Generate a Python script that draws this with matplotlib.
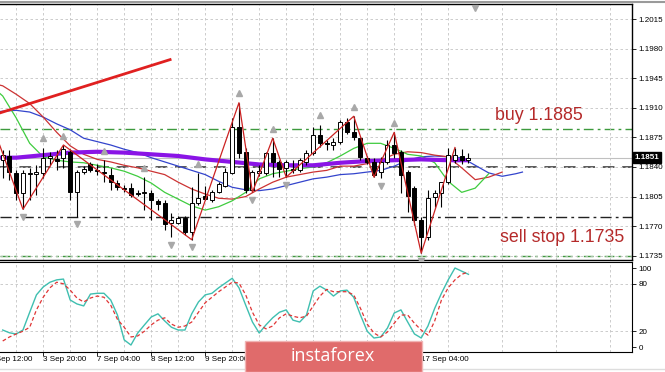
import matplotlib.pyplot as plt
import matplotlib.transforms as mtransforms
from matplotlib.patches import Rectangle
from matplotlib.lines import Line2D

# H4 candles, bar 0 = 2 Sep 12:00
bars = list(range(2, 72))
opens = [1.1848, 1.1853, 1.1833, 1.1809, 1.1832, 1.1832, 1.1833, 1.1851, 1.1850, 1.1851,
         1.1858, 1.1810, 1.1834, 1.1844, 1.1836, 1.1834, 1.1831, 1.1821, 1.1815, 1.1815,
         1.1809, 1.1809, 1.1809, 1.1800, 1.1797, 1.1774, 1.1774, 1.1780, 1.1763, 1.1797,
         1.1806, 1.1801, 1.1810, 1.1818, 1.1833, 1.1887, 1.1858, 1.1813, 1.1833, 1.1833,
         1.1857, 1.1846, 1.1839, 1.1836, 1.1836, 1.1846, 1.1857, 1.1878, 1.1868, 1.1866,
         1.1870, 1.1893, 1.1881, 1.1874, 1.1851, 1.1846, 1.1834, 1.1846, 1.1866, 1.1858,
         1.1834, 1.1815, 1.1777, 1.1757, 1.1805, 1.1809, 1.1822, 1.1848, 1.1853, 1.1848]
highs = [1.1860, 1.1860, 1.1836, 1.1836, 1.1839, 1.1842, 1.1863, 1.1858, 1.1860, 1.1866,
         1.1861, 1.1836, 1.1841, 1.1846, 1.1844, 1.1848, 1.1839, 1.1825, 1.1819, 1.1821,
         1.1813, 1.1828, 1.1813, 1.1802, 1.1801, 1.1786, 1.1782, 1.1782, 1.1816, 1.1833,
         1.1818, 1.1813, 1.1822, 1.1839, 1.1898, 1.1916, 1.1863, 1.1836, 1.1842, 1.1858,
         1.1874, 1.1848, 1.1848, 1.1848, 1.1851, 1.1860, 1.1887, 1.1890, 1.1872, 1.1874,
         1.1896, 1.1898, 1.1900, 1.1876, 1.1853, 1.1851, 1.1852, 1.1872, 1.1881, 1.1860,
         1.1836, 1.1818, 1.1781, 1.1813, 1.1813, 1.1822, 1.1863, 1.1863, 1.1861, 1.1857]
lows = [1.1827, 1.1825, 1.1801, 1.1790, 1.1801, 1.1807, 1.1827, 1.1842, 1.1836, 1.1839,
        1.1801, 1.1781, 1.1832, 1.1834, 1.1831, 1.1822, 1.1813, 1.1813, 1.1810, 1.1805,
        1.1806, 1.1789, 1.1777, 1.1789, 1.1766, 1.1757, 1.1773, 1.1760, 1.1754, 1.1795,
        1.1801, 1.1799, 1.1809, 1.1816, 1.1832, 1.1851, 1.1809, 1.1810, 1.1829, 1.1831,
        1.1828, 1.1828, 1.1828, 1.1833, 1.1834, 1.1842, 1.1854, 1.1864, 1.1860, 1.1860,
        1.1867, 1.1879, 1.1872, 1.1848, 1.1844, 1.1828, 1.1827, 1.1844, 1.1851, 1.1809,
        1.1787, 1.1771, 1.1738, 1.1754, 1.1793, 1.1793, 1.1820, 1.1845, 1.1844, 1.1845]
closes = [1.1854, 1.1834, 1.1809, 1.1833, 1.1833, 1.1834, 1.1851, 1.1853, 1.1847, 1.1861,
          1.1810, 1.1834, 1.1838, 1.1836, 1.1835, 1.1833, 1.1822, 1.1816, 1.1814, 1.1807,
          1.1808, 1.1810, 1.1801, 1.1796, 1.1773, 1.1777, 1.1780, 1.1763, 1.1797, 1.1803,
          1.1802, 1.1810, 1.1820, 1.1834, 1.1887, 1.1857, 1.1813, 1.1834, 1.1835, 1.1857,
          1.1846, 1.1838, 1.1846, 1.1838, 1.1848, 1.1857, 1.1878, 1.1868, 1.1867, 1.1870,
          1.1893, 1.1881, 1.1876, 1.1852, 1.1846, 1.1831, 1.1846, 1.1866, 1.1857, 1.1831,
          1.1806, 1.1777, 1.1757, 1.1803, 1.1809, 1.1822, 1.1854, 1.1854, 1.1848, 1.1851]

# alligator lines (shifted into the future)
jaw_bars = [1, 2] + list(range(4, 79, 2)) + [79]
jaw = [1.1905, 1.1906, 1.1907, 1.1905, 1.1899, 1.1891, 1.1884, 1.1874, 1.1870, 1.1866,
       1.1861, 1.1857, 1.1851, 1.1846, 1.1841, 1.1836, 1.1831, 1.1823, 1.1816, 1.1813,
       1.1812, 1.1814, 1.1818, 1.1822, 1.1826, 1.1828, 1.1831, 1.1832, 1.1834, 1.1836,
       1.1841, 1.1848, 1.1852, 1.1853, 1.1852, 1.1851, 1.1842, 1.1833, 1.1829, 1.1832, 1.1834]
teeth_bars = [1, 2] + list(range(4, 77, 2))
teeth = [1.1938, 1.1936, 1.1926, 1.1915, 1.1899, 1.1881, 1.1865, 1.1855, 1.1849, 1.1846,
         1.1842, 1.1839, 1.1835, 1.1831, 1.1822, 1.1814, 1.1808, 1.1803, 1.1802, 1.1805,
         1.1814, 1.1822, 1.1828, 1.1831, 1.1834, 1.1836, 1.1841, 1.1841, 1.1844, 1.1848,
         1.1855, 1.1858, 1.1857, 1.1854, 1.1852, 1.1839, 1.1825, 1.1828, 1.1834]
lips_bars = [1, 2] + list(range(4, 75, 2))
lips = [1.1931, 1.1924, 1.1898, 1.1868, 1.1852, 1.1848, 1.1846, 1.1845, 1.1842, 1.1839,
        1.1835, 1.1829, 1.1821, 1.1810, 1.1802, 1.1794, 1.1789, 1.1793, 1.1800, 1.1810,
        1.1826, 1.1832, 1.1835, 1.1838, 1.1840, 1.1845, 1.1853, 1.1862, 1.1868, 1.1868,
        1.1862, 1.1855, 1.1853, 1.1845, 1.1823, 1.1810, 1.1815, 1.1832]
slow_bars = [1, 4, 8, 12, 16, 20, 24, 28, 32, 36, 40, 44, 48, 52, 56, 60, 64, 68, 71]
slow_ma = [1.1851, 1.1851, 1.1854, 1.1857, 1.1858, 1.1857, 1.1855, 1.1853, 1.1849, 1.1846,
           1.1843, 1.1842, 1.1842, 1.1845, 1.1847, 1.1848, 1.1849, 1.1848, 1.1848]

zz_bars = [1, 5, 11, 30, 37, 39, 42, 44, 54, 57, 60, 64, 69]
zz_vals = [1.1878, 1.1790, 1.1866, 1.1754, 1.1916, 1.1810, 1.1874, 1.1828, 1.1900, 1.1828,
           1.1881, 1.1738, 1.1863]
up_fractals = [8, 11, 17, 23, 31, 37, 42, 49, 54, 60]
down_fractals = [5, 13, 27, 30, 39, 44, 58, 64]
top_marker_bar = 72

trend_bars = [1.6, 26.8]
trend_vals = [1.1904, 1.1967]
buy_level = 1.1885
sell_level = 1.1735
pivot_level = 1.1840
lower_level = 1.1781

# stochastic
stoch_bars = list(range(2, 72))
stoch_main = [21.5, 18, 16.5, 21.5, 44, 66, 76, 82, 85, 86, 59.5, 54.5, 52, 67, 68, 68, 59.5,
              40.5, 9, 2.5, 17.7, 28, 38, 42, 33, 25, 21.5, 21.5, 42, 57, 66, 68, 75, 81, 87,
              75, 53, 31.6, 17.7, 28, 37, 44, 47, 34, 31.6, 40.5, 71, 77, 72, 64.5, 71, 72,
              63, 40.5, 20, 11.4, 12.7, 24, 43, 47, 31.6, 16.5, 11.4, 26.6, 49, 68, 85, 100,
              96, 92]
stoch_signal = [7.6, 12.7, 16.5, 20, 25, 47, 63, 75, 82, 80, 72, 62, 57, 62, 64.5, 63, 53,
                35, 25, 12.7, 14, 20, 28, 34, 37, 29, 25, 26.6, 31.6, 44, 56, 63, 70, 76, 82,
                81, 66, 44, 28, 23, 26.6, 37, 42, 39, 37, 39, 52, 64.5, 73, 70, 70, 70, 66,
                49, 29, 17.7, 12.7, 19, 30, 40.5, 40.5, 30, 21.5, 15, 33, 59.5, 75, 85, 92, 95]

# labels that are not covered by the watermark
time_bars = [0, 8, 16, 24, 32, 64]
time_labels = ['2 Sep 12:00', '3 Sep 20:00', '7 Sep 04:00', '8 Sep 12:00', '9 Sep 20:00',
               '17 Sep 04:00']
time_ticks = [8, 16, 24, 32, 40, 48, 56, 64]
price_ticks = [1.2015, 1.1980, 1.1945, 1.1910, 1.1875, 1.1840, 1.1805, 1.1770, 1.1735]


def main():
    plt.rcParams['font.family'] = ['Liberation Sans', 'DejaVu Sans']
    fig = plt.figure(figsize=(6.65, 3.72), dpi=100)
    fig.patch.set_facecolor('white')
    ax = fig.add_axes([0, 0.3011, 0.9504, 0.6882])
    ax2 = fig.add_axes([0, 0.0538, 0.9504, 0.2419], sharex=ax)

    xlim = (1.6, 95.23)
    grid_kw = dict(color='#c4c4c4', lw=0.6, linestyle=(0, (3, 3)))

    # ---- main panel
    ax.set_xlim(*xlim)
    ax.set_ylim(1.17300, 1.20328)
    ax.set_yticks(price_ticks)
    ax.set_yticklabels(['%.4f' % p for p in price_ticks])
    ax.yaxis.tick_right()
    ax.tick_params(axis='y', labelsize=5.8, length=3, pad=1.5, width=0.6)
    ax.set_xticks(time_ticks)
    ax.set_xticks(range(4, 96, 8), minor=True)
    ax.tick_params(axis='x', which='both', length=0, labelbottom=False)
    ax.grid(True, which='both', **grid_kw)
    ax.spines['left'].set_visible(False)
    for s in ['top', 'right', 'bottom']:
        ax.spines[s].set_linewidth(1.0)

    # level lines
    ax.axhline(buy_level, color='#3d9a3d', lw=1.0, linestyle=(0, (7, 3, 2, 3)), zorder=1.5)
    ax.axhline(sell_level, color='#3d9a3d', lw=1.0, linestyle=(0, (7, 3, 2, 3)), zorder=1.5)
    ax.axhline(pivot_level, color='#5a5a5a', lw=1.4, linestyle=(0, (6, 4)), zorder=1.5)
    ax.axhline(lower_level, color='#222222', lw=1.0, linestyle=(0, (8, 3, 2, 3)), zorder=1.5)
    ax.axhline(closes[-1], color='#c0c0c0', lw=0.8, zorder=1.5)

    # indicators
    ax.plot(jaw_bars, jaw, color='#3344cc', lw=0.9, zorder=2)
    ax.plot(teeth_bars, teeth, color='#cc3333', lw=0.9, zorder=2)
    ax.plot(lips_bars, lips, color='#3fcc3f', lw=0.9, zorder=2)
    ax.plot(slow_bars, slow_ma, color='#8a14e6', lw=3, zorder=2.5, solid_capstyle='butt')

    # candles
    ax.vlines(bars, lows, highs, color='black', lw=0.8, zorder=3)
    bottoms = [min(o, c) for o, c in zip(opens, closes)]
    heights = [max(abs(c - o), 0.00008) for o, c in zip(opens, closes)]
    fills = ['white' if c >= o else 'black' for o, c in zip(opens, closes)]
    ax.bar(bars, heights, bottom=bottoms, width=0.6, color=fills, edgecolor='black',
           linewidth=0.7, zorder=3.5)

    # zigzag, fractals, trendline
    ax.plot(zz_bars, zz_vals, color='#cc2222', lw=0.9, zorder=4)
    hi = dict(zip(bars, highs))
    lo = dict(zip(bars, lows))
    ax.plot(up_fractals, [hi[b] + 0.0011 for b in up_fractals], '^', color='#a8a8a8',
            ms=5, zorder=4)
    ax.plot(down_fractals, [lo[b] - 0.0009 for b in down_fractals], 'v', color='#a8a8a8',
            ms=5, zorder=4)
    tb = mtransforms.blended_transform_factory(ax.transData, ax.transAxes)
    ax.plot([top_marker_bar], [0.985], 'v', color='#a8a8a8', ms=5, transform=tb,
            clip_on=False, zorder=4)
    ax.plot(trend_bars, trend_vals, color='#e02020', lw=2, zorder=4)

    ax.text(74.9, buy_level + 0.0016, 'buy 1.1885', color='#b52a2a', fontsize=12.8,
            ha='left', va='center', zorder=5)
    ax.text(75.7, sell_level + 0.0022, 'sell stop 1.1735', color='#b52a2a', fontsize=12.8,
            ha='left', va='center', zorder=5)

    rt = mtransforms.blended_transform_factory(ax.transAxes, ax.transData)
    ax.text(1.004, closes[-1], '%.4f' % closes[-1], transform=rt, color='white',
            fontsize=5.8, fontweight='bold', ha='left', va='center', zorder=6,
            bbox=dict(boxstyle='square,pad=0.25', fc='black', ec='black'))

    # ---- stochastic panel
    ax2.set_ylim(-6.3, 107.6)
    ax2.set_yticks([0, 20, 80, 100])
    ax2.yaxis.tick_right()
    ax2.tick_params(axis='y', labelsize=5.8, length=3, pad=1.5, width=0.6)
    ax2.set_xticks(time_ticks)
    ax2.set_xticks(range(4, 96, 8), minor=True)
    ax2.tick_params(axis='x', which='major', length=3, width=0.6, labelbottom=False)
    ax2.tick_params(axis='x', which='minor', length=0)
    ax2.grid(True, axis='x', which='both', **grid_kw)
    for lvl in (20, 80):
        ax2.axhline(lvl, **grid_kw)
    ax2.spines['left'].set_visible(False)
    ax2.plot(stoch_bars, stoch_main, color='#3fbfb0', lw=1.0, zorder=3)
    ax2.plot(stoch_bars, stoch_signal, color='#e03535', lw=0.9, linestyle=(0, (3, 2)),
             zorder=3)
    bt = mtransforms.blended_transform_factory(ax2.transData, ax2.transAxes)
    for b, lab in zip(time_bars, time_labels):
        ax2.text(b, -0.05, lab, transform=bt, fontsize=5.8, ha='left', va='top',
                 clip_on=False)

    # frame decorations
    fig.add_artist(Line2D([0, 1], [0.995, 0.995], color='#9a9a9a', lw=1.5))
    fig.add_artist(Line2D([0, 1], [0.008, 0.008], color='#dddddd', lw=1.0))

    # watermark
    fig.add_artist(Rectangle((245 / 665, 0), 177 / 665, 31 / 372, transform=fig.transFigure,
                             fc='#e06b6b', ec='#f0b4b4', lw=1, zorder=10))
    fig.text(333 / 665, 16 / 372, 'instaforex', color='white', fontsize=13,
             family=['Open Sans', 'DejaVu Sans'], ha='center', va='center', zorder=11)

    fig.savefig('out.png', dpi=100, facecolor='white')


if __name__ == "__main__":
    main()
